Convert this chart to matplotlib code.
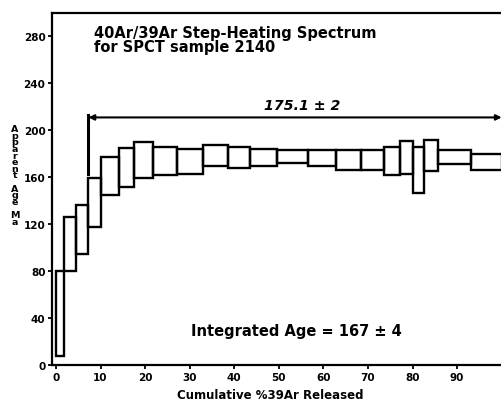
import matplotlib
matplotlib.use("Agg")
import matplotlib.pyplot as plt
from matplotlib.patches import Rectangle

plt.rcParams['font.family'] = ['DejaVu Sans']
plt.rcParams['font.weight'] = 'bold'

# step boundaries (cumulative %39Ar released) and age ranges (Ma, low / high)
edges = [0, 1.7, 4.4, 7.3, 10.0, 14.1, 17.5, 21.8, 27.1, 33.0, 38.6, 43.5,
         49.5, 56.5, 62.9, 68.5, 73.5, 77.1, 80.2, 82.5, 85.8, 93.1, 100]
age_low = [8, 80, 95, 118, 145, 152, 159.5, 162, 162.4, 170, 168, 170,
           171.8, 169.8, 166, 166, 161.8, 162.4, 146.8, 165.2, 171, 166]
age_high = [80, 126, 136, 159, 177.5, 185, 190, 186, 184, 187.4, 185.7, 184.5,
            183.2, 183.2, 183.2, 183.2, 186, 191.2, 186, 191.7, 183.2, 179.5]

plateau_start = 7.3
plateau_end = 100
plateau_level = 211
plateau_label = "175.1 \u00b1 2"
integrated_label = "Integrated Age = 167 \u00b1 4"
ylabel_text = "Apparent Age Ma"

xticks = list(range(0, 100, 10))
yticks = list(range(0, 281, 40))

fig = plt.figure(figsize=(5.02, 4.02), dpi=100)
ax = fig.add_axes([52.4 / 502, 36 / 402, 453.7 / 502, 352 / 402])

# one box per heating step
for i in range(len(age_low)):
    ax.add_patch(Rectangle((edges[i], age_low[i]), edges[i + 1] - edges[i],
                           age_high[i] - age_low[i], fill=False,
                           edgecolor='black', linewidth=1.7))
# final drop to baseline
ax.plot([edges[-1], edges[-1]], [0, age_low[-1]], color='black', lw=1.0)

# plateau bracket
ax.annotate('', xy=(plateau_start, plateau_level), xytext=(plateau_end, plateau_level),
            arrowprops=dict(arrowstyle='<|-|>', color='black', lw=1.5,
                            mutation_scale=8, shrinkA=0, shrinkB=0))
ax.plot([plateau_start, plateau_start], [163, plateau_level + 2], color='black', lw=2.2)
ax.text(55.3, 222, plateau_label, ha='center', va='center', fontsize=10.2,
        fontweight='bold', style='italic')

ax.text(54, 29, integrated_label, ha='center', va='center', fontsize=10.5,
        fontweight='bold')

ax.text(8.5, 290, "40Ar/39Ar Step-Heating Spectrum\nfor SPCT sample 2140",
        ha='left', va='top', fontsize=10.5, fontweight='bold', linespacing=0.9)

ax.set_xlim(-0.8, 101)
ax.set_ylim(0, 300)
ax.set_xticks(xticks)
ax.set_yticks(yticks)
ax.tick_params(direction='out', length=3, width=1.3, labelsize=7.5, pad=2)
for lab in ax.get_xticklabels() + ax.get_yticklabels():
    lab.set_fontweight('bold')
for s in ax.spines.values():
    s.set_linewidth(1.6)

ax.set_xlabel("Cumulative %39Ar Released", fontsize=8.5, fontweight='bold', labelpad=4)
ax.xaxis.set_label_coords(0.48, -0.065)

# stacked vertical axis title, one letter per row
fig.text(15 / 502, 1 - 176 / 402, "\n".join(ylabel_text), ha='center',
         va='center', fontsize=6.8, fontweight='bold', linespacing=0.66)

fig.savefig("out.png", dpi=100)
